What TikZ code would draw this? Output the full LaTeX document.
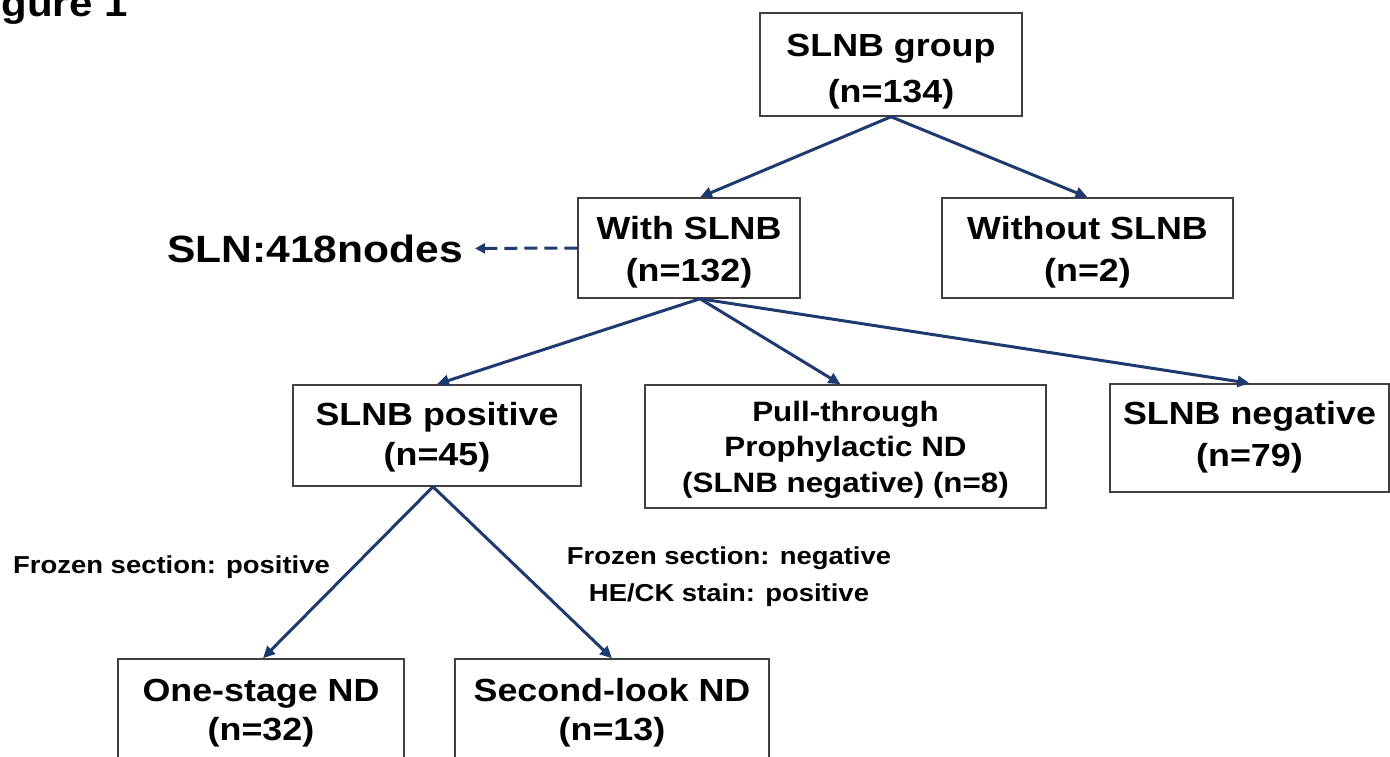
\documentclass[tikz,border=0pt]{standalone}
\usepackage{fontspec}
\setmainfont{Liberation Sans}
\newfontfamily\boxfont{Liberation Sans}[FakeStretch=1.12]
\usetikzlibrary{arrows.meta,calc}
\definecolor{navy}{HTML}{1F3A70}
\definecolor{edgegray}{HTML}{404040}
\newcommand\tstrut[1]{\rule{0pt}{#1pt}}
\newcommand\bstrut{\rule[-10pt]{0pt}{10pt}}
\tikzset{
  box/.style={draw=edgegray, line width=1.5pt, fill=white, inner sep=0pt, align=center,
    font=\boxfont\bfseries\fontsize{32}{37}\selectfont},
  link/.style={draw=navy, line width=3pt, -{Triangle[length=12pt,width=11pt]}},
  lbl/.style={inner sep=0pt, align=center, font=\boxfont\bfseries\fontsize{24.5}{37}\selectfont},
}
\begin{document}
\begin{tikzpicture}[x=1pt,y=-1pt]
\useasboundingbox (0,0) rectangle (1390,757);
\clip (0,0) rectangle (1390,757);
\node[box, minimum width=262pt, minimum height=103pt, font=\boxfont\bfseries\fontsize{32}{46}\selectfont] (grp) at (891,64.5) {\tstrut{40}SLNB group\\(n=134)\bstrut};
\node[box, minimum width=222pt, minimum height=100pt, font=\boxfont\bfseries\fontsize{32}{42}\selectfont] (with) at (689,248) {\tstrut{34}With SLNB\\(n=132)\bstrut};
\node[box, minimum width=291pt, minimum height=100pt, font=\boxfont\bfseries\fontsize{32}{42}\selectfont] (without) at (1087.5,248) {\tstrut{34}Without SLNB\\(n=2)\bstrut};
\node[box, minimum width=288pt, minimum height=101pt, font=\boxfont\bfseries\fontsize{32}{40}\selectfont] (pos) at (437,435.5) {\tstrut{29}SLNB positive\\(n=45)\bstrut};
\node[box, minimum width=401pt, minimum height=123pt, font=\boxfont\bfseries\fontsize{28}{35.5}\selectfont] (pull) at (845.5,446.5) {\tstrut{30}Pull-through\\Prophylactic ND\\(SLNB negative) (n=8)\bstrut};
\node[box, minimum width=279pt, minimum height=108pt, font=\boxfont\bfseries\fontsize{32}{42}\selectfont] (neg) at (1249.5,438) {\tstrut{25}SLNB negative\\(n=79)\bstrut};
\node[box, minimum width=286pt, minimum height=104pt, font=\boxfont\bfseries\fontsize{32}{39}\selectfont] (one) at (261,711) {\tstrut{29}One-stage ND\\(n=32)\bstrut};
\node[box, minimum width=314pt, minimum height=104pt, font=\boxfont\bfseries\fontsize{32}{39}\selectfont] (second) at (612,711) {\tstrut{29}Second-look ND\\(n=13)\bstrut};

\node[lbl, font=\boxfont\bfseries\fontsize{38}{40}\selectfont, anchor=base east] (sln) at (463,262) {SLN:418nodes};
\node[lbl, anchor=base west] (fp) at (13,573) {Frozen section: positive};
\node[lbl] (fn) at (729,577) {Frozen section: negative\\HE/CK stain: positive};
\node[lbl, font=\boxfont\bfseries\fontsize{37.5}{40}\selectfont, anchor=base west] (fig) at (-36,17) {Figure 1};

\draw[link] (grp.south) -- ([xshift=11pt]with.north);
\draw[link] (grp.south) -- (without.north);
\draw[link] ([xshift=11pt]with.south) -- (pos.north);
\draw[link] ([xshift=11pt]with.south) -- ([xshift=-5pt]pull.north);
\draw[link] ([xshift=11pt]with.south) -- (neg.north);
\draw[link] ([xshift=-4pt]pos.south) -- ([xshift=2pt]one.north);
\draw[link] ([xshift=-4pt]pos.south) -- (second.north);
\draw[link, dash pattern=on 13pt off 7pt, -{Triangle[length=10pt,width=10pt]}] (with.west) -- ([xshift=12pt]sln.east);
\end{tikzpicture}
\end{document}
